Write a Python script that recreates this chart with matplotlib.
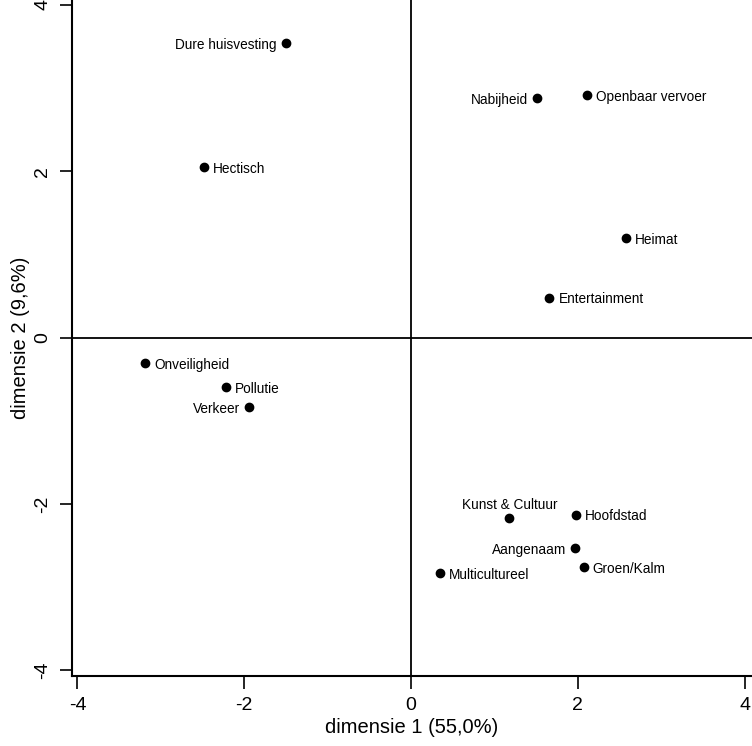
import matplotlib.pyplot as plt

plt.rcParams["font.family"] = ["Liberation Sans", "DejaVu Sans"]

# Correspondentie-analyse: associaties, twee dimensies
labels = [
    "Dure huisvesting", "Nabijheid", "Openbaar vervoer", "Hectisch",
    "Heimat", "Entertainment", "Onveiligheid", "Pollutie", "Verkeer",
    "Kunst & Cultuur", "Hoofdstad", "Aangenaam", "Groen/Kalm", "Multicultureel",
]
dim1 = [-1.50, 1.51, 2.11, -2.48, 2.58, 1.66, -3.19, -2.22, -1.94,
        1.18, 1.98, 1.97, 2.07, 0.35]
dim2 = [3.54, 2.88, 2.92, 2.05, 1.20, 0.48, -0.31, -0.60, -0.84,
        -2.17, -2.13, -2.53, -2.76, -2.83]
# label side: 'r' right, 'l' left, 't' above
side = ["l", "l", "r", "r", "r", "r", "r", "r", "l",
        "t", "r", "l", "r", "r"]

xticks = [-4, -2, 0, 2, 4]
yticks = [-4, -2, 0, 2, 4]

fig = plt.figure(figsize=(7.52, 7.46), dpi=100)
ax = fig.add_axes([72 / 752, 70 / 746, 1 - 72 / 752, 1 - 70 / 746])

ax.set_xlim(-4.065, 4.088)
ax.set_ylim(-4.07, 4.06)

ax.axhline(0, color="black", lw=1.3, zorder=1)
ax.axvline(0, color="black", lw=1.3, zorder=1)

ax.plot(dim1, dim2, "o", color="black", ms=6, zorder=3)

for x, y, lab, s in zip(dim1, dim2, labels, side):
    if s == "r":
        ax.annotate(lab, (x, y), xytext=(6.5, -1.3), textcoords="offset points",
                    ha="left", va="center", fontsize=9.8)
    elif s == "l":
        ax.annotate(lab, (x, y), xytext=(-6.5, -1.3), textcoords="offset points",
                    ha="right", va="center", fontsize=9.8)
    else:
        ax.annotate(lab, (x, y), xytext=(0, 9.5), textcoords="offset points",
                    ha="center", va="center", fontsize=9.8)

for sp in ["top", "right"]:
    ax.spines[sp].set_visible(False)
for sp in ["left", "bottom"]:
    ax.spines[sp].set_linewidth(1.5)

ax.set_xticks(xticks)
ax.set_yticks(yticks)
ax.set_xticklabels([str(t) for t in xticks])
ax.set_yticklabels([str(t) for t in yticks], rotation=90, va="center")
ax.tick_params(direction="out", length=9, width=1.2, labelsize=14, pad=6)

ax.set_xlabel("dimensie 1 (55,0%)", fontsize=14.5, labelpad=3)
ax.set_ylabel("dimensie 2 (9,6%)", fontsize=14.5, labelpad=3)

fig.savefig("out.png", dpi=100)
